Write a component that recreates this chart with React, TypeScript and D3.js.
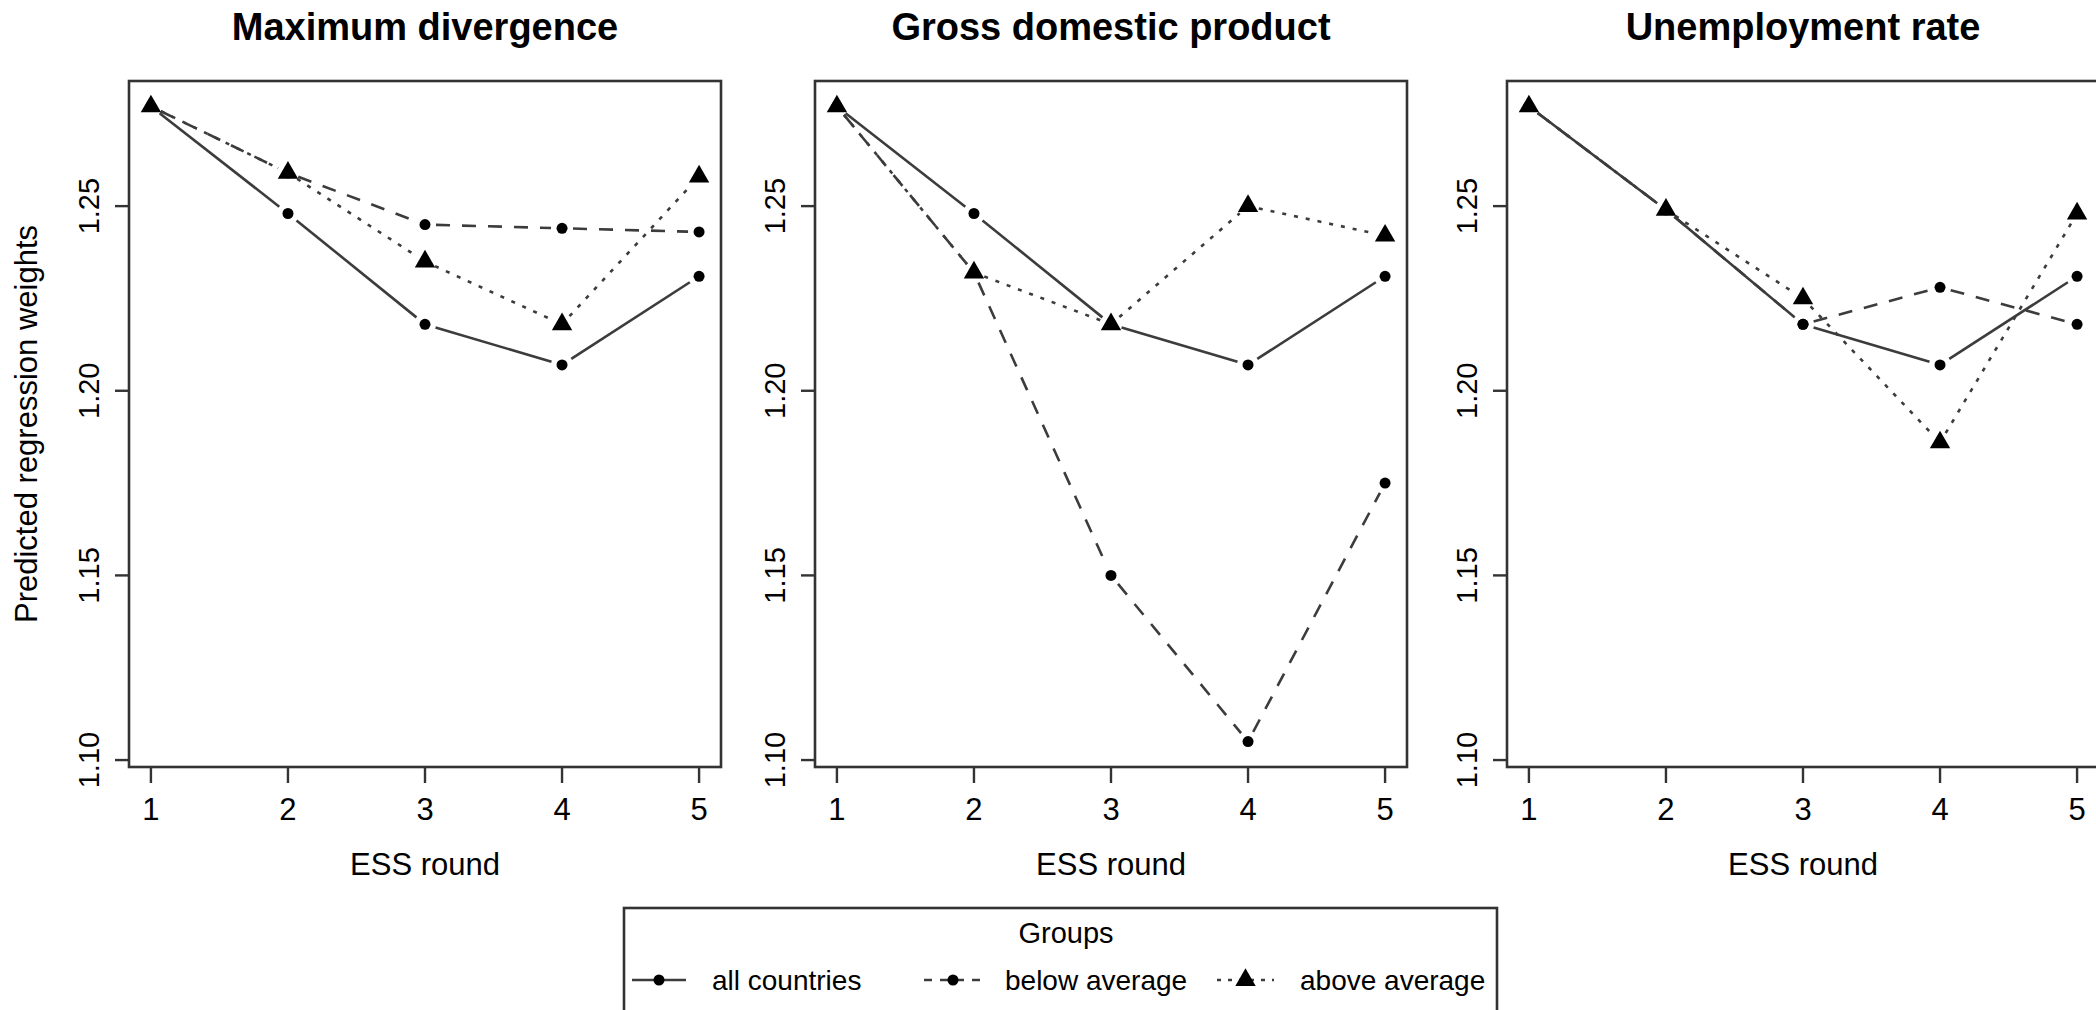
import React, { useEffect, useRef } from 'react';
import * as d3 from 'd3';

// ESS rounds on the x axis
const rounds = [1, 2, 3, 4, 5];
const panelTitles = ['Maximum divergence', 'Gross domestic product', 'Unemployment rate'];
const groupNames = ['all countries', 'below average', 'above average'];
const yTicks = [1.10, 1.15, 1.20, 1.25];

// predicted regression weights
const maxDivAll = [1.277, 1.248, 1.218, 1.207, 1.231];
const maxDivBelow = [1.277, 1.259, 1.245, 1.244, 1.243];
const maxDivAbove = [1.277, 1.259, 1.235, 1.218, 1.258];

const gdpAll = [1.277, 1.248, 1.218, 1.207, 1.231];
const gdpBelow = [1.277, 1.232, 1.150, 1.105, 1.175];
const gdpAbove = [1.277, 1.232, 1.218, 1.250, 1.242];

const unempAll = [1.277, 1.249, 1.218, 1.207, 1.231];
const unempBelow = [1.277, 1.249, 1.218, 1.228, 1.218];
const unempAbove = [1.277, 1.249, 1.225, 1.186, 1.248];

const panelSeries = [
  [maxDivAll, maxDivBelow, maxDivAbove],
  [gdpAll, gdpBelow, gdpAbove],
  [unempAll, unempBelow, unempAbove]
];

const dashes = [null, '14,12', '4,8'];
const FONT = '"Liberation Sans", Arial, Helvetica, sans-serif';
const LINE_COL = '#3c3c3c';

export default function App() {
  const ref = useRef<SVGSVGElement | null>(null);

  useEffect(() => {
    const svg = d3.select(ref.current);
    svg.selectAll('*').remove();

    const width = 2096;
    const height = 1010;
    const panelLeft = [129, 815, 1507];
    const plotW = 592;
    const plotTop = 81;
    const plotBottom = 767;

    svg.append('rect').attr('width', width).attr('height', height).attr('fill', 'white');

    // R style 4% padding on both axes
    const allVals = panelSeries.flat(2);
    const yMin = d3.min(allVals) as number;
    const yMax = d3.max(allVals) as number;
    const yPad = (yMax - yMin) * 0.04;
    const yscale = d3.scaleLinear()
      .domain([yMin - yPad, yMax + yPad])
      .range([plotBottom, plotTop]);

    const xPad = (rounds[rounds.length - 1] - rounds[0]) * 0.04;
    const gap = 11;
    const tri = d3.symbol().type(d3.symbolTriangle).size(180);

    panelSeries.forEach((series, p) => {
      const left = panelLeft[p];
      const xscale = d3.scaleLinear()
        .domain([rounds[0] - xPad, rounds[rounds.length - 1] + xPad])
        .range([left, left + plotW]);
      const g = svg.append('g');

      // title
      g.append('text')
        .attr('x', left + plotW / 2)
        .attr('y', 40)
        .attr('text-anchor', 'middle')
        .attr('font-family', FONT)
        .attr('font-weight', 'bold')
        .attr('font-size', 38)
        .text(panelTitles[p]);

      // lines (type = "b": gaps around points)
      series.forEach((vals, gi) => {
        const pts = rounds.map((r, i) => [xscale(r), yscale(vals[i])]);
        for (let i = 0; i < pts.length - 1; i++) {
          const [x1, y1] = pts[i];
          const [x2, y2] = pts[i + 1];
          const len = Math.hypot(x2 - x1, y2 - y1);
          if (len <= 2 * gap) continue;
          const ux = (x2 - x1) / len, uy = (y2 - y1) / len;
          const seg = g.append('line')
            .attr('x1', x1 + ux * gap).attr('y1', y1 + uy * gap)
            .attr('x2', x2 - ux * gap).attr('y2', y2 - uy * gap)
            .attr('stroke', LINE_COL)
            .attr('stroke-width', 2.6)
            .attr('fill', 'none');
          if (dashes[gi]) seg.attr('stroke-dasharray', dashes[gi] as string);
        }
      });

      // markers
      series.forEach((vals, gi) => {
        rounds.forEach((r, i) => {
          if (gi === 2) {
            g.append('path')
              .attr('d', tri() as string)
              .attr('transform', `translate(${xscale(r)},${yscale(vals[i])})`)
              .attr('fill', 'black');
          } else {
            g.append('circle')
              .attr('cx', xscale(r)).attr('cy', yscale(vals[i]))
              .attr('r', 5.5).attr('fill', 'black');
          }
        });
      });

      // frame
      g.append('rect')
        .attr('x', left).attr('y', plotTop)
        .attr('width', plotW).attr('height', plotBottom - plotTop)
        .attr('fill', 'none').attr('stroke', '#333').attr('stroke-width', 2.6);

      // y axis
      yTicks.forEach(t => {
        g.append('line')
          .attr('x1', left - 14).attr('x2', left)
          .attr('y1', yscale(t)).attr('y2', yscale(t))
          .attr('stroke', '#333').attr('stroke-width', 2.4);
        g.append('text')
          .attr('transform', `translate(${left - 30},${yscale(t)})rotate(-90)`)
          .attr('text-anchor', 'middle')
          .attr('font-family', FONT)
          .attr('font-size', 29)
          .text(t.toFixed(2));
      });

      // x axis
      rounds.forEach(r => {
        g.append('line')
          .attr('x1', xscale(r)).attr('x2', xscale(r))
          .attr('y1', plotBottom).attr('y2', plotBottom + 16)
          .attr('stroke', '#333').attr('stroke-width', 2.4);
        g.append('text')
          .attr('x', xscale(r)).attr('y', 820)
          .attr('text-anchor', 'middle')
          .attr('font-family', FONT)
          .attr('font-size', 31)
          .text(r);
      });

      g.append('text')
        .attr('x', left + plotW / 2).attr('y', 875)
        .attr('text-anchor', 'middle')
        .attr('font-family', FONT)
        .attr('font-size', 31)
        .text('ESS round');

      if (p === 0) {
        g.append('text')
          .attr('transform', `translate(37,${(plotTop + plotBottom) / 2})rotate(-90)`)
          .attr('text-anchor', 'middle')
          .attr('font-family', FONT)
          .attr('font-size', 31)
          .text('Predicted regression weights');
      }
    });

    // legend
    const lg = svg.append('g');
    lg.append('rect')
      .attr('x', 624).attr('y', 908)
      .attr('width', 873).attr('height', 140)
      .attr('fill', 'white').attr('stroke', '#333').attr('stroke-width', 2.6);
    lg.append('text')
      .attr('x', 1066).attr('y', 943)
      .attr('text-anchor', 'middle')
      .attr('font-family', FONT)
      .attr('font-size', 29)
      .text('Groups');

    const symX = [[632, 686], [924, 982], [1217, 1274]];
    const textX = [712, 1005, 1300];
    const legY = 980;
    groupNames.forEach((name, gi) => {
      const [a, b] = symX[gi];
      const ln = lg.append('line')
        .attr('x1', a).attr('x2', b)
        .attr('y1', legY).attr('y2', legY)
        .attr('stroke', LINE_COL).attr('stroke-width', 2.6);
      if (dashes[gi]) ln.attr('stroke-dasharray', gi === 1 ? '8,8' : '4,7');
      if (gi === 2) {
        lg.append('path')
          .attr('d', tri() as string)
          .attr('transform', `translate(${(a + b) / 2},${legY})`)
          .attr('fill', 'black');
      } else {
        lg.append('circle')
          .attr('cx', (a + b) / 2).attr('cy', legY)
          .attr('r', 5.5).attr('fill', 'black');
      }
      lg.append('text')
        .attr('x', textX[gi]).attr('y', legY + 10)
        .attr('font-family', FONT)
        .attr('font-size', 28)
        .text(name);
    });
  }, []);

  return (
    <svg
      ref={ref}
      width={2096}
      height={1010}
      style={{ position: 'absolute', left: 0, top: 0, display: 'block' }}
    />
  );
}
